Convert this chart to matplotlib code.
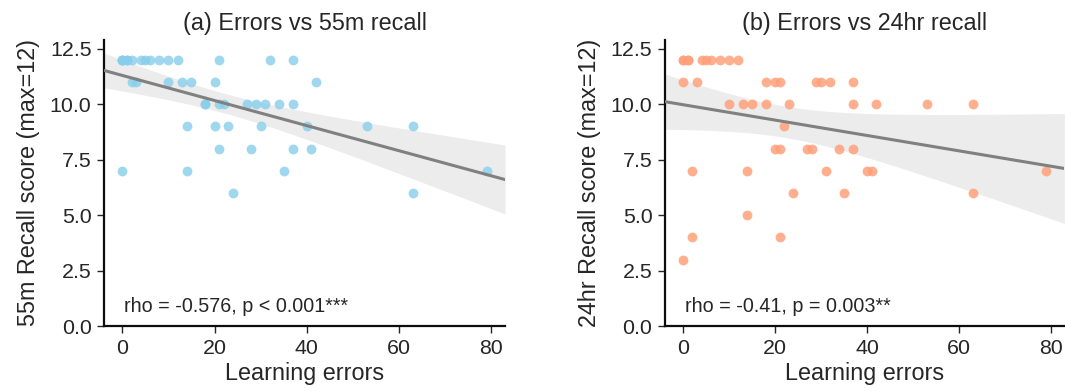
import numpy as np
import matplotlib
matplotlib.use("Agg")
import matplotlib.pyplot as plt

plt.rcParams["font.family"] = ["Liberation Sans", "DejaVu Sans"]
plt.rcParams["text.color"] = ".15"
plt.rcParams["axes.labelcolor"] = ".15"
plt.rcParams["xtick.color"] = ".15"
plt.rcParams["ytick.color"] = ".15"

# learning errors and recall scores, one entry per participant
errors_55m = [0, 0, 0, 1, 1, 2, 4, 5, 6, 8, 10, 12, 21, 32, 37,
              2, 3, 10, 13, 15, 20, 42,
              18, 18, 21, 22, 27, 29, 31, 34, 37,
              14, 20, 23, 30, 40, 53, 63,
              21, 28, 37, 41,
              0, 14, 35, 79,
              24, 63]
recall_55m = [12] * 15 + [11] * 7 + [10] * 9 + [9] * 7 + [8] * 4 + [7] * 4 + [6] * 2

errors_24h = [0, 0, 1, 1, 4, 5, 6, 8, 10, 12,
              0, 3, 18, 20, 21, 29, 30, 32, 37,
              10, 13, 15, 18, 23, 37, 42, 53, 63,
              22,
              20, 21, 27, 28, 34, 37,
              2, 14, 31, 40, 41, 79,
              24, 35, 63,
              14,
              2, 21,
              0]
recall_24h = ([12] * 10 + [11] * 9 + [10] * 9 + [9] + [8] * 6 + [7] * 6
              + [6] * 3 + [5] + [4] * 2 + [3])

titles = ["(a) Errors vs 55m recall", "(b) Errors vs 24hr recall"]
ylabels = ["55m Recall score (max=12)", "24hr Recall score (max=12)"]
stats_text = ["rho = -0.576, p < 0.001***", "rho = -0.41, p = 0.003**"]
colors = ["skyblue", "lightsalmon"]
alphas = [0.8, 0.85]

T_CRIT = 2.013  # t(0.975, df=46)


def reg_panel(ax, x, y, color, alpha):
    x = np.asarray(x, float)
    y = np.asarray(y, float)
    ax.scatter(x, y, s=50, color=color, alpha=alpha, linewidths=0, zorder=3)

    lo, hi = x.min(), x.max()
    pad = (hi - lo) * 0.05
    ax.set_xlim(lo - pad, hi + pad)
    grid = np.linspace(lo - pad, hi + pad, 200)

    # ordinary least squares line with 95% confidence band
    slope, icpt = np.polyfit(x, y, 1)
    fit = icpt + slope * grid
    n = len(x)
    resid = y - (icpt + slope * x)
    s = np.sqrt(np.sum(resid ** 2) / (n - 2))
    sxx = np.sum((x - x.mean()) ** 2)
    se = s * np.sqrt(1 / n + (grid - x.mean()) ** 2 / sxx)

    ax.fill_between(grid, fit - T_CRIT * se, fit + T_CRIT * se,
                    color="gray", alpha=0.15, linewidth=0, zorder=1)
    ax.plot(grid, fit, color="gray", lw=2.2, zorder=4)


fig = plt.figure(figsize=(10.65, 3.91), dpi=100)
axes = [fig.add_axes([0.0977, 0.166, 0.3765, 0.732]),
        fig.add_axes([0.6244, 0.166, 0.3750, 0.732])]

data = [(errors_55m, recall_55m), (errors_24h, recall_24h)]
for i, ax in enumerate(axes):
    ex, rc = data[i]
    reg_panel(ax, ex, rc, colors[i], alphas[i])
    ax.set_ylim(0, 12.9)
    ax.set_yticks([0, 2.5, 5, 7.5, 10, 12.5])
    ax.set_xticks([0, 20, 40, 60, 80])
    ax.set_title(titles[i], fontsize=16.8, pad=7)
    ax.set_xlabel("Learning errors", fontsize=16.8, labelpad=3)
    ax.set_ylabel(ylabels[i], fontsize=16.8, labelpad=7)
    ax.tick_params(labelsize=15.4, length=5, width=1, direction="out", pad=4)
    ax.text(0.05, 0.05, stats_text[i], transform=ax.transAxes, fontsize=14.2,
            va="baseline", ha="left")
    for side in ["top", "right"]:
        ax.spines[side].set_visible(False)
    for side in ["left", "bottom"]:
        ax.spines[side].set_linewidth(1.6)
        ax.spines[side].set_color(".05")

fig.savefig("out.png", dpi=100)
